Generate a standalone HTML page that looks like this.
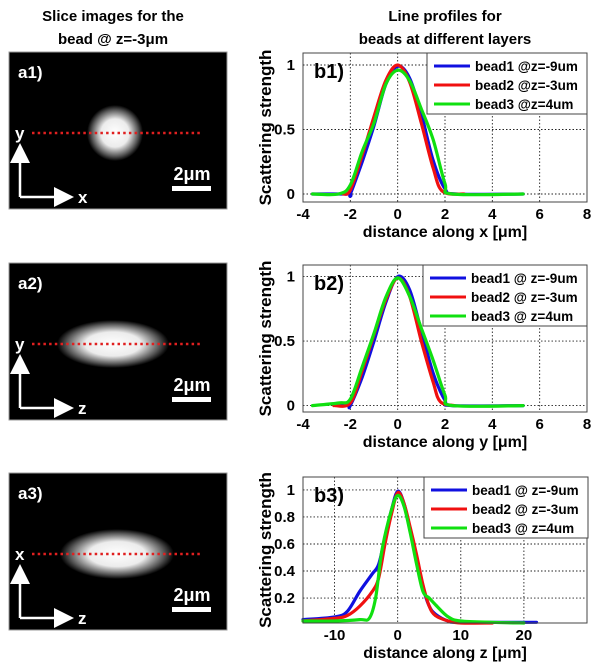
<!DOCTYPE html>
<html><head><meta charset="utf-8"><style>
body{margin:0;background:#fff;width:602px;height:670px;overflow:hidden}
svg{display:block}
text{font-family:"Liberation Sans",sans-serif;font-weight:bold}
</style></head><body>
<svg id="s" width="602" height="670">
<defs>
<radialGradient id="g" cx="50%" cy="50%" r="50%">
<stop offset="0" stop-color="#fff"/><stop offset="0.5" stop-color="#ececec"/><stop offset="0.82" stop-color="#5a5a5a"/><stop offset="1" stop-color="#000"/></radialGradient>
<marker id="ah" markerWidth="8" markerHeight="8" refX="4" refY="4" orient="auto"><path d="M0,0L8,4L0,8z" fill="#fff"/></marker>
</defs>
<text x="113" y="21" font-size="15" text-anchor="middle">Slice images for the</text>
<text x="113" y="44" font-size="15" text-anchor="middle">bead @ z=-3μm</text>
<text x="445" y="21" font-size="15" text-anchor="middle">Line profiles for</text>
<text x="445" y="44" font-size="15" text-anchor="middle">beads at different layers</text>
</svg>
<script>
const NS="http://www.w3.org/2000/svg";
const svg=document.getElementById('s');
function mk(tag,at,parent,txt){const e=document.createElementNS(NS,tag);for(const k in at)e.setAttribute(k,at[k]);if(txt!==undefined)e.textContent=txt;(parent||svg).appendChild(e);return e;}

// slice images
const panels=[
 {lab:'a1)',top:52,vy:'y',hx:'x',cx:115,rx:28,ry:28},
 {lab:'a2)',top:263,vy:'y',hx:'z',cx:113,rx:56,ry:24},
 {lab:'a3)',top:473,vy:'x',hx:'z',cx:117,rx:57,ry:25}];
panels.forEach((p,i)=>{
 const g=mk('g',{});
 
 
 mk('rect',{x:9,y:p.top,width:218,height:157,fill:'#000',stroke:'#999','stroke-width':1},g);
 const ly=p.top+81;
 mk('ellipse',{cx:p.cx,cy:ly,rx:p.rx,ry:p.ry,fill:'url(#g)'},g);
 const l=mk('line',{x1:32,y1:ly,x2:203,y2:ly,stroke:'#e02020','stroke-width':2.5,'stroke-dasharray':'2.5 3.2'},g);
 
 
 const t=mk('text',{x:18,y:p.top+26,fill:'#fff','font-size':17},g,p.lab);
 
 
 mk('text',{x:15,y:ly+6,fill:'#fff','font-size':17},g,p.vy);
 mk('line',{x1:20,y1:p.top+145,x2:20,y2:p.top+101,stroke:'#fff','stroke-width':2.5,'marker-end':'url(#ah)'},g);
 mk('line',{x1:20,y1:p.top+145,x2:64,y2:p.top+145,stroke:'#fff','stroke-width':2.5,'marker-end':'url(#ah)'},g);
 mk('text',{x:78,y:p.top+151,fill:'#fff','font-size':17},g,p.hx);
 mk('text',{x:192,y:p.top+128,fill:'#fff','font-size':18,'text-anchor':'middle'},g,'2μm');
 const sb=mk('rect',{x:172,y:p.top+134,width:39,height:5,fill:'#fff'},g);
 
 
});

// chart data
const b1x1=[-3.6,-2.1,-2,-1.5,-1,-0.5,0,0.5,1,1.5,2,2.5,5.3];
const b1y1=[0,0,0,0.25,0.53,0.85,0.99,0.9,0.62,0.26,0.04,0,0];
const b1x2=[-2.3,-2,-1.5,-1,-0.5,0,0.5,1,1.5,1.9,2.8];
const b1y2=[0,0.03,0.3,0.6,0.88,1,0.87,0.55,0.2,0.02,0];
const b1x3=[-3.6,-2.5,-2,-1.5,-1,-0.5,0,0.5,1,1.5,2,2.3,5.3];
const b1y3=[0,0,0.07,0.33,0.55,0.85,0.96,0.88,0.66,0.42,0.08,0,0];
const b2x1=[-2.5,-2.1,-2,-1.5,-1,-0.5,0,0.5,1,1.5,2,2.3,5.3];
const b2y1=[0.01,0,0,0.22,0.5,0.8,1,0.9,0.58,0.25,0.04,0,0];
const b2x2=[-2.7,-2,-1.5,-1,-0.5,0,0.5,1,1.5,1.8,2.4];
const b2y2=[0,0.02,0.27,0.55,0.82,0.99,0.85,0.5,0.18,0.03,0];
const b2x3=[-3.6,-2.5,-2,-1.5,-1,-0.5,0,0.5,1,1.5,2,2.3,5.3];
const b2y3=[0,0.02,0.05,0.3,0.56,0.84,0.99,0.85,0.6,0.35,0.08,0,0];
const b3x1=[-15,-10,-8,-6,-4,-3,-2,-1,0,1,2,3,4,5,6,8,10,22];
const b3y1=[0.04,0.06,0.1,0.25,0.38,0.45,0.65,0.85,0.99,0.9,0.7,0.5,0.28,0.14,0.08,0.03,0.02,0.02];
const b3x2=[-15,-10,-8,-6,-4,-3,-2,-1,0,1,2,3,4,5,6,8,10,15];
const b3y2=[0.03,0.05,0.07,0.14,0.25,0.35,0.6,0.82,0.98,0.9,0.72,0.52,0.3,0.14,0.07,0.03,0.015,0.015];
const b3x3=[-15,-10,-6,-4.5,-3.5,-2.5,-1,0,1,2,3,4,5,6,8,10,15,20];
const b3y3=[0.03,0.03,0.04,0.05,0.2,0.55,0.85,0.96,0.88,0.68,0.45,0.25,0.2,0.15,0.06,0.03,0.02,0.015];
const xt12=[-4,-2,0,2,4,6,8];
const yt12=[0,0.5,1];
const xt3=[-10,0,10,20];
const yt3=[0.2,0.4,0.6,0.8,1];
const legendLabels=[['bead1 @z=-9um','bead2 @z=-3um','bead3 @z=4um'],['bead1 @ z=-9um','bead2 @ z=-3um','bead3 @ z=4um'],['bead1 @ z=-9um','bead2 @ z=-3um','bead3 @ z=4um']];
const colors=['#1010e0','#f01010','#10e010'];

const charts=[
 {id:'b1',top:53,bot:202,xmin:-4,xmax:8,ymin:-0.062,ymax:1.093,xt:xt12,yt:yt12,xs:[b1x1,b1x2,b1x3],ys:[b1y1,b1y2,b1y3],xl:'distance along x [μm]',leg:{x:427,w:160,h:61}},
 {id:'b2',top:265,bot:412,xmin:-4,xmax:8,ymin:-0.05,ymax:1.09,xt:xt12,yt:yt12,xs:[b2x1,b2x2,b2x3],ys:[b2y1,b2y2,b2y3],xl:'distance along y [μm]',leg:{x:423,w:164,h:61}},
 {id:'b3',top:477,bot:623,xmin:-15,xmax:30,ymin:0.015,ymax:1.096,xt:xt3,yt:yt3,xs:[b3x1,b3x2,b3x3],ys:[b3y1,b3y2,b3y3],xl:'distance along z [μm]',leg:{x:424,w:164,h:61}}];
const L=303,R=587;
function smooth(P){let d='M'+P[0][0].toFixed(1)+','+P[0][1].toFixed(1);
 for(let i=0;i<P.length-1;i++){const p0=P[i-1]||P[i],p1=P[i],p2=P[i+1],p3=P[i+2]||p2;
  const c1=[p1[0]+(p2[0]-p0[0])/6,p1[1]+(p2[1]-p0[1])/6],c2=[p2[0]-(p3[0]-p1[0])/6,p2[1]-(p3[1]-p1[1])/6];
  d+='C'+c1.map(v=>v.toFixed(1))+' '+c2.map(v=>v.toFixed(1))+' '+p2[0].toFixed(1)+','+p2[1].toFixed(1);}
 return d;}
charts.forEach((c,ci)=>{
 const g=mk('g',{});
 
 
 const X=v=>L+(v-c.xmin)/(c.xmax-c.xmin)*(R-L);
 const Y=v=>c.bot-(v-c.ymin)/(c.ymax-c.ymin)*(c.bot-c.top);
 mk('rect',{x:L,y:c.top,width:R-L,height:c.bot-c.top,fill:'#fff'},g);
 c.xt.forEach(t=>{
  if(t>c.xmin&&t<c.xmax)mk('line',{x1:X(t),x2:X(t),y1:c.top,y2:c.bot,stroke:'#222','stroke-width':0.9,'stroke-dasharray':'1.5 2'},g);
  const tl=mk('text',{x:X(t),y:c.bot+17,'font-size':15,'text-anchor':'middle'},g,String(t));
  
  
 });
 c.yt.forEach(t=>{
  mk('line',{x1:L,x2:R,y1:Y(t),y2:Y(t),stroke:'#222','stroke-width':0.9,'stroke-dasharray':'1.5 2'},g);
  const tl=mk('text',{x:L-8,y:Y(t)+5,'font-size':15,'text-anchor':'end'},g,String(t));
  
  
 });
 c.xs.forEach((xs,si)=>{
  const P=xs.map((x,i)=>[X(x),Y(c.ys[si][i])]);
  const pl=mk('path',{d:smooth(P),fill:'none',stroke:colors[si],'stroke-width':3.2,'stroke-linejoin':'round','stroke-linecap':'round'},g);
  
  
 });
 mk('rect',{x:L,y:c.top,width:R-L,height:c.bot-c.top,fill:'none',stroke:'#444','stroke-width':1},g);
 const lab=mk('text',{x:314,y:c.top+25,'font-size':20},g,c.id+')');
 
 
 const lg=mk('g',{},g);
 
 
 mk('rect',{x:c.leg.x,y:c.top,width:c.leg.w,height:c.leg.h,fill:'#fff',stroke:'#444','stroke-width':1},lg);
 legendLabels[ci].forEach((t,i)=>{
  const yy=c.top+13+i*19;
  mk('line',{x1:c.leg.x+7,x2:c.leg.x+43,y1:yy,y2:yy,stroke:colors[i],'stroke-width':3},lg);
  const e=mk('text',{x:c.leg.x+48,y:yy+5,'font-size':13.5},lg,t);
  
  
 });
 const xl=mk('text',{x:445,y:c.bot+35,'font-size':16,'text-anchor':'middle'},g,c.xl);
 
 
 const cy=(c.top+c.bot)/2;
 const yl=mk('text',{x:0,y:0,'font-size':17,'text-anchor':'middle',transform:'translate(271,'+cy+') rotate(-90)'},g,'Scattering strength');
 
 
});
</script>
</body></html>
